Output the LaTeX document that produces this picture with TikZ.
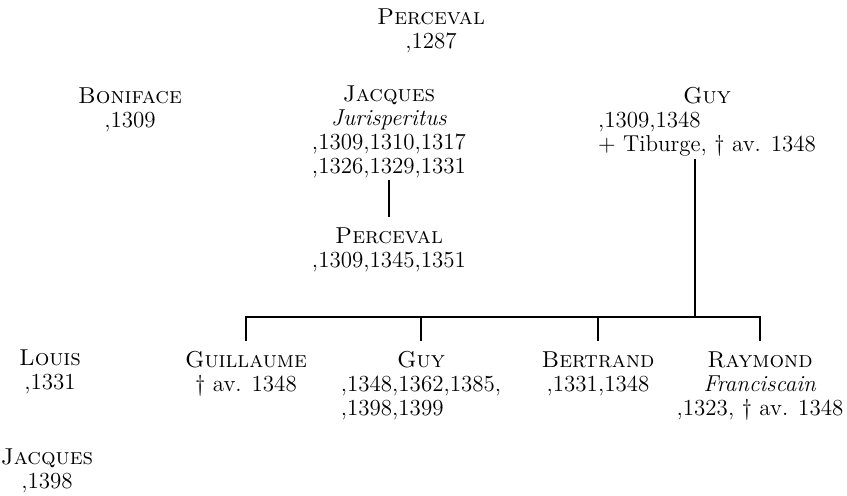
\documentclass[tikz,border=0pt]{standalone}
\usepackage{fontspec}
\usepackage{tikz}
\usetikzlibrary{positioning, calc}

\begin{document}
\begin{tikzpicture}[x=0.5pt, y=-0.5pt,
    person/.style={anchor=north, inner sep=0pt, align=center, font=\fontsize{11.5}{12}\selectfont},
    kin/.style={line width=0.9pt}]
\useasboundingbox (0,0) rectangle (847,495);

% First generation
\node[person] (percevalA) at (431,8) {\textsc{Perceval}\\,1287};

% Second generation
\node[person] (boniface) at (130,87) {\textsc{Boniface}\\,1309};
\node[person] (jacquesA) at (389,85) {\textsc{Jacques}\\\textit{Jurisperitus}\\,1309,1310,1317\\,1326,1329,1331};
\node[person] (guyA) at (707,87) {\textsc{Guy}\\\rlap{,1309,1348}\phantom{+ Tiburge, † av. 1348}\\+ Tiburge, † av. 1348};

% Son of Jacques
\node[person] (percevalB) at (389,227) {\textsc{Perceval}\\,1309,1345,1351};
\draw[kin, shorten <=1pt, shorten >=5pt] (jacquesA.south) -- (percevalB.north);

% Third generation
\node[person] (louis) at (50,349) {\textsc{Louis}\\,1331};
\node[person] (guillaume) at (246,351) {\textsc{Guillaume}\\† av. 1348};
\node[person] (guyB) at (421,351) {\textsc{Guy}\\,1348,1362,1385,\\\rlap{,1398,1399}\phantom{,1348,1362,1385,}};
\node[person] (bertrand) at (598,351) {\textsc{Bertrand}\\,1331,1348};
\node[person] (raymond) at (760,351) {\textsc{Raymond}\\\textit{Franciscain}\\,1323, † av. 1348};

% Children of Guy
\coordinate (fork) at (695,317);
\draw[kin, shorten <=1pt] (fork |- guyA.south) -- (fork);
\foreach \c in {guillaume, guyB, bertrand, raymond}
    \draw[kin, shorten >=5pt] (fork) -| (\c.north);

% Last
\node[person] (jacquesB) at (47,448) {\textsc{Jacques}\\,1398};
\end{tikzpicture}
\end{document}
